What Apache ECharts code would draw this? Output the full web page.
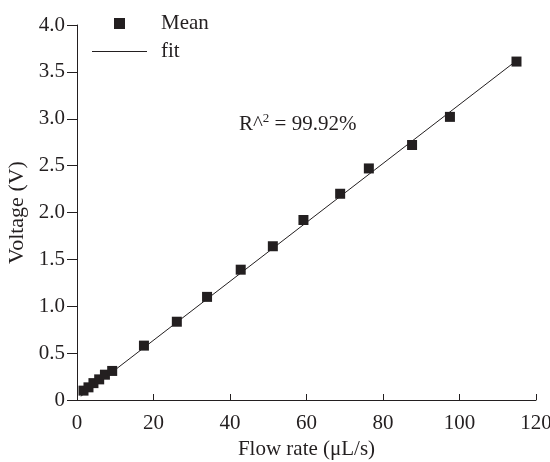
<!DOCTYPE html>
<html>
<head>
<meta charset="utf-8">
<script src="https://cdn.jsdelivr.net/npm/echarts@6/dist/echarts.min.js"></script>
<style>html,body{margin:0;padding:0;background:#fff}#c{width:550px;height:462px}</style>
</head>
<body>
<div id="c"></div>
<script>
// Data
var flowRate = [1.7, 3.0, 4.3, 5.8, 7.3, 9.2, 17.5, 26.1, 34.0, 42.8, 51.2, 59.2, 68.8, 76.3, 87.6, 97.5, 114.9];
var voltage  = [0.10, 0.135, 0.18, 0.22, 0.27, 0.31, 0.58, 0.835, 1.10, 1.39, 1.64, 1.92, 2.20, 2.47, 2.72, 3.02, 3.61];
var fitX = [1.0, 114.9];
var fitY = [0.04, 3.62];
var xTicks = [0, 20, 40, 60, 80, 100, 120];
var yTicks = [0, 0.5, 1.0, 1.5, 2.0, 2.5, 3.0, 3.5, 4.0];
var seriesNames = ['Mean', 'fit'];

var ink = '#231f20';
var font = 'Liberation Serif';

var chart = echarts.init(document.getElementById('c'), null, {renderer: 'canvas'});
chart.setOption({
  backgroundColor: '#fff',
  animation: false,
  textStyle: {fontFamily: font, color: ink},
  grid: {left: 77, right: 14, top: 25, bottom: 62, containLabel: false, outerBoundsMode: 'none'},
  title: {
    left: 234, top: 107,
    text: '{a|R^}{s|2}{a| = 99.92%}',
    textStyle: {
      fontWeight: 'normal',
      rich: {
        a: {fontFamily: font, fontSize: 21, fontWeight: 'normal', color: ink, lineHeight: 24},
        s: {fontFamily: font, fontSize: 13, fontWeight: 'normal', color: ink, lineHeight: 8, verticalAlign: 'top'}
      }
    }
  },
  legend: {
    orient: 'vertical',
    left: 92, top: 13,
    padding: 0,
    itemWidth: 55, itemHeight: 11,
    itemGap: 7,
    textStyle: {fontFamily: font, fontSize: 21, color: ink, padding: [0, 0, 0, 9]},
    data: [
      {name: seriesNames[0], icon: 'path://M0 0H10V10H0Z'},
      {name: seriesNames[1], icon: 'path://M0 0H55V1.2H0Z'}
    ]
  },
  xAxis: {
    type: 'value', min: xTicks[0], max: xTicks[xTicks.length - 1], interval: 20,
    name: 'Flow rate (\u03bcL/s)', nameLocation: 'middle', nameGap: 39,
    nameTextStyle: {fontFamily: font, fontSize: 21, color: ink},
    axisLine: {show: true, onZero: false, lineStyle: {color: ink, width: 1}},
    axisTick: {show: true, inside: true, length: 6, lineStyle: {color: ink}},
    axisLabel: {fontFamily: font, fontSize: 21, color: ink, margin: 13},
    splitLine: {show: false}
  },
  yAxis: {
    type: 'value', min: yTicks[0], max: yTicks[yTicks.length - 1], interval: 0.5,
    name: 'Voltage (V)', nameLocation: 'middle', nameGap: 47,
    nameTextStyle: {fontFamily: font, fontSize: 22, color: ink},
    axisLine: {show: true, onZero: false, lineStyle: {color: ink, width: 1}},
    axisTick: {show: true, inside: false, length: 10, lineStyle: {color: ink}},
    axisLabel: {fontFamily: font, fontSize: 21, color: ink, margin: 12,
      formatter: function (v) { return v === 0 ? '0' : v.toFixed(1); }},
    splitLine: {show: false}
  },
  series: [
    {
      name: seriesNames[0], type: 'scatter', symbol: 'rect', symbolSize: 10,
      itemStyle: {color: ink, opacity: 1},
      data: flowRate.map(function (x, i) { return [x, voltage[i]]; }),
      z: 3
    },
    {
      name: seriesNames[1], type: 'line', symbol: 'none', showSymbol: false,
      lineStyle: {color: ink, width: 1},
      itemStyle: {color: ink},
      data: fitX.map(function (x, i) { return [x, fitY[i]]; }),
      z: 2
    }
  ]
});
</script>
</body>
</html>
